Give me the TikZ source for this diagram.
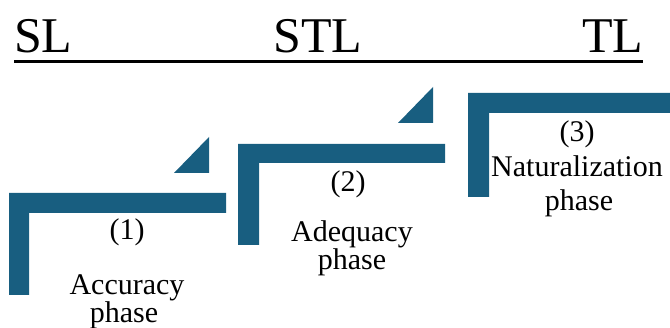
\documentclass[tikz,border=0pt]{standalone}
\usepackage{fontspec}
\setmainfont{Liberation Serif}
\definecolor{phaseblue}{RGB}{24,94,128}
\tikzset{
  bar/.style={fill=phaseblue, draw=none},
  title/.style={anchor=base west, inner sep=0pt, font=\fontsize{50}{50}\selectfont},
  txt/.style={anchor=base, inner sep=0pt, font=\fontsize{30}{29}\selectfont}
}
\begin{document}
\begin{tikzpicture}[x=1pt, y=-1pt]
\useasboundingbox (0,0) rectangle (670,328);
% title
\node[title] (sl) at (14,53) {SL};
\node[title] (stl) at (273,53) {STL};
\node[title] (tl) at (582,53) {TL};
\draw[line width=2.5pt] (14,61.5) -- (643,61.5);
% block 1
\fill[bar] (9,193) -- (226,193) -- (226,213) -- (29,213) -- (29,295) -- (9,295) -- cycle;
\fill[bar] (174,173) -- (209,173) -- (209,137) -- cycle;
% block 2
\fill[bar] (238,144) -- (445,144) -- (445,163) -- (259,163) -- (259,245) -- (238,245) -- cycle;
\fill[bar] (398,123) -- (433,123) -- (433,87) -- cycle;
% block 3
\fill[bar] (468,93) -- (670,93) -- (670,113) -- (489,113) -- (489,197) -- (468,197) -- cycle;
% texts
\node[txt] (n1) at (127,240) {(1)};
\node[txt] (t1a) at (127,295) {Accuracy};
\node[txt] (t1b) at (124,323) {phase};
\node[txt] (n2) at (348,192) {(2)};
\node[txt] (t2a) at (352,242) {Adequacy};
\node[txt] (t2b) at (352,270) {phase};
\node[txt] (n3) at (577,142) {(3)};
\node[txt] (t3a) at (577,177) {Naturalization};
\node[txt] (t3b) at (579,211) {phase};
\end{tikzpicture}
\end{document}
